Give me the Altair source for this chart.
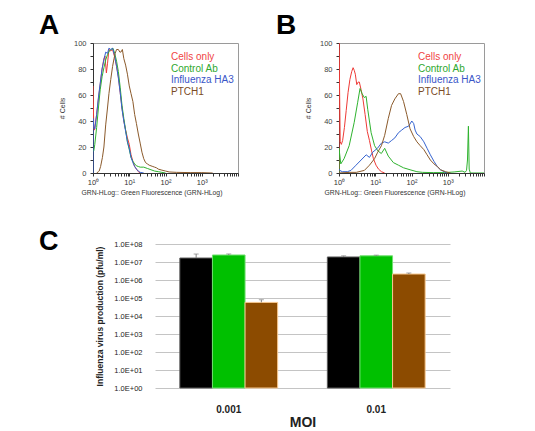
import altair as alt
import pandas as pd

FONT = "Liberation Sans"

# ---------------- histogram data (fluorescence value, % of max cells) -------------
series_names = ["Cells only", "Control Ab", "Influenza HA3", "PTCH1"]
line_colors = ["#ee3a36", "#2fb32f", "#3563d0", "#8b5a2b"]
legend_colors = ["#f04444", "#2ea82e", "#3a56c8", "#7a4a25"]

# Panel A
a_cells_x = [1.0, 1.05, 1.1, 1.26, 1.41, 1.58, 1.78, 2.0, 2.14, 2.34, 2.51, 2.75, 3.09, 3.47, 3.98, 4.47,
             5.01, 5.62, 6.31, 7.08, 7.94, 8.91, 10.0, 11.2, 12.6, 14.1, 15.8, 17.8, 20.0]
a_cells_y = [67, 35, 33, 45, 57, 68, 80, 88, 90, 77, 84, 95, 94, 95, 89, 82,
             74, 62, 50, 40, 33, 27, 22, 14, 9, 5, 3, 1, 0]
a_ctrl_x = [1.0, 1.05, 1.12, 1.26, 1.41, 1.58, 1.78, 2.0, 2.24, 2.51, 2.82, 3.16, 3.55, 3.98, 4.47, 5.01,
            5.62, 6.31, 7.08, 7.94, 8.91, 10.0, 11.2, 12.6, 14.1, 15.8, 17.8, 20.0, 25.1, 31.6, 39.8, 50.1,
            63.1, 79.4, 100.0]
a_ctrl_y = [17, 17, 22, 35, 50, 64, 74, 81, 87, 91, 94, 95, 96, 92, 86, 78,
            66, 52, 42, 33, 24, 18, 12, 9, 7, 5.5, 5, 4.5, 4.5, 3.5, 2.5, 1.5,
            1, 0.5, 0]
a_ha3_x = [1.0, 1.0, 1.05, 1.12, 1.26, 1.41, 1.58, 1.78, 2.0, 2.24, 2.51, 2.75, 3.09, 3.47, 3.98, 4.47,
           5.01, 5.62, 6.31, 7.08, 7.94, 8.91, 10.0, 11.2, 12.6, 14.1, 15.8, 17.8, 20.0, 25.1]
a_ha3_y = [0, 42, 36, 34, 45, 58, 69, 80, 87, 93, 92, 96, 95, 96, 90, 82,
           73, 62, 49, 40, 32, 24, 19, 12, 8, 5, 3, 1.5, 0.5, 0]
a_ptch_x = [1.26, 1.41, 1.48, 1.62, 1.82, 2.0, 2.24, 2.51, 2.75, 3.09, 3.47, 3.8, 4.07, 4.47, 5.01, 5.5,
            5.89, 6.46, 7.08, 7.94, 8.91, 10.0, 11.2, 12.6, 14.1, 15.8, 17.8, 20.0, 22.4, 25.1, 28.2, 31.6,
            35.5, 39.8, 44.7, 50.1, 56.2, 63.1, 79.4, 100.0, 126.0, 200.0, 500.0, 1000.0, 2000.0]
a_ptch_y = [0, 1, 1.5, 5, 12, 20, 37, 50, 61, 72, 82, 88, 92, 95, 95, 93,
            93, 95, 88, 83, 76, 67, 61, 55, 45, 38, 30, 23, 16, 11, 8, 7,
            6, 5.5, 5, 4.5, 4, 3, 2.2, 1.5, 0.8, 0.5, 0.3, 0.3, 0]

# Panel B
b_cells_x = [1.0, 1.0, 1.08, 1.16, 1.26, 1.41, 1.58, 1.78, 2.0, 2.24, 2.45, 2.63, 2.82, 3.09, 3.39, 3.63,
             4.07, 4.57, 5.25, 6.03, 6.92, 7.94, 8.91, 10.5, 12.3, 14.8, 18.2]
b_cells_y = [0, 100, 24, 22, 25, 35, 48, 62, 72, 78, 81, 79, 76, 68, 70, 70,
             64, 57, 45, 32, 25, 17, 11, 6, 3, 1, 0]
b_ctrl_x = [1.0, 1.0, 1.12, 1.38, 1.91, 2.63, 3.26, 3.8, 4.34, 5.0, 5.6, 6.2, 7.7, 9.6, 11.8, 14.7,
            18.2, 22.9, 31.6, 43.7, 60.3, 91.2, 141.0, 200.0, 400.0, 800.0, 1500.0, 2500.0, 3000.0, 3300.0,
            3500.0, 3715.0, 3900.0, 4200.0, 10000.0]
b_ctrl_y = [0, 19, 7, 11, 21, 39, 54, 65, 61, 58, 59, 49, 31, 21, 17, 15,
            19, 13, 8, 6, 4, 2.5, 1, 0.5, 0.3, 0.3, 0.8, 1.5, 0.5, 2,
            10, 36, 3, 0, 0]
b_ha3_x = [1.0, 1.05, 1.23, 1.7, 2.14, 2.95, 4.07, 5.62, 6.92, 8.51, 11.5, 14.8, 18.2, 22.9, 28.2, 34.7,
           43.7, 53.7, 66.1, 83.2, 102.0, 115.0, 126.0, 141.0, 174.0, 219.0, 269.0, 331.0, 417.0, 513.0,
           631.0, 794.0, 977.0]
b_ha3_y = [3, 2, 1, 1, 2, 6, 10, 14, 12, 16, 19, 23, 24, 23, 25, 27,
           31, 33, 35, 36, 40, 38, 33, 30, 28, 24, 19, 14, 9, 5,
           2.5, 1, 0]
b_ptch_x = [1.0, 2.0, 3.0, 5.01, 6.92, 9.55, 11.7, 14.8, 18.2, 22.9, 28.2, 34.7, 43.7, 50.1, 60.3, 74.1,
            91.2, 115.0, 141.0, 174.0, 219.0, 269.0, 331.0, 417.0, 513.0, 631.0, 871.0, 1202.0]
b_ptch_y = [0, 0.5, 0.5, 2, 6, 11, 16, 21, 29, 42, 52, 57, 61, 61, 55, 45,
            34, 28, 24, 21, 18, 14, 10, 7, 5, 2.5, 1, 0]

# ---------------- bar chart data ----------------
moi = ["0.001", "0.01"]
c_series = ["Cells only", "Control Ab", "PTCH1"]
c_colors = ["#000000", "#00c000", "#8c4b00"]
c_edges = ["#5a5a5a", "#6fe06f", "#f7c88e"]
c_val_0001 = [1.66e7, 2.45e7, 5.7e4]
c_val_001 = [1.9e7, 2.2e7, 2.15e6]
c_hi_0001 = [2.77e7, 2.8e7, 8.0e4]
c_hi_001 = [2.2e7, 2.4e7, 2.45e6]


def curves_df(curves):
    rows = []
    for name, xs, ys in curves:
        for i, (x, y) in enumerate(zip(xs, ys)):
            rows.append({"series": name, "fl": x, "cnt": y, "i": i})
    return pd.DataFrame(rows)


def letter_layer(letter, dx, dy, size):
    return alt.Chart(pd.DataFrame({"t": [letter]})).mark_text(
        align="left", baseline="alphabetic", fontSize=size, fontWeight="bold", font=FONT, color="#000"
    ).encode(text="t:N", x=alt.value(dx), y=alt.value(dy))


x_tick_vals = [m * 10 ** e for e in range(4) for m in range(1, 10)] + [10000]
x_label_expr = ("datum.value == 1 ? '10\u2070' : datum.value == 10 ? '10\u00b9' : "
                "datum.value == 100 ? '10\u00b2' : datum.value == 1000 ? '10\u00b3' : ''")


def hist_panel(df, letter, letter_dx, legend_dx, title_x):
    xaxis = alt.Axis(values=x_tick_vals, labelExpr=x_label_expr, labelOverlap=False, labelFlush=False,
                     grid=False, tickSize=3, tickColor="#333", domainColor="#333",
                     labelFontSize=7.5, labelColor="#333", labelPadding=2,
                     title="GRN-HLog:: Green Fluorescence (GRN-HLog)", titleFontSize=6.8,
                     titleFontWeight="normal", titleColor="#333", titleAlign="left",
                     titleAnchor="start", titleX=title_x, titlePadding=4)
    yaxis = alt.Axis(values=list(range(0, 101, 10)),
                     labelExpr="datum.value % 20 == 0 ? datum.label : ''",
                     grid=False, tickSize=3, tickColor="#333", domainColor="#333",
                     labelFontSize=7.5, labelColor="#444", labelPadding=4,
                     title="# Cells", titleFontSize=7, titleFontWeight="normal",
                     titleColor="#333", titlePadding=8)
    lines = alt.Chart(df).mark_line(strokeWidth=1, clip=True).encode(
        x=alt.X("fl:Q", scale=alt.Scale(type="log", domain=[1, 10000], nice=False), axis=xaxis),
        y=alt.Y("cnt:Q", scale=alt.Scale(domain=[0, 100], nice=False), axis=yaxis),
        color=alt.Color("series:N", scale=alt.Scale(domain=series_names, range=line_colors), legend=None),
        detail="series:N",
        order="i:Q",
    )
    layers = [lines]
    for k, (name, col) in enumerate(zip(series_names, legend_colors)):
        layers.append(
            alt.Chart(pd.DataFrame({"t": [name]})).mark_text(
                align="left", baseline="middle", fontSize=10, font=FONT, color=col
            ).encode(text="t:N", x=alt.value(legend_dx), y=alt.value(14 + 11.6 * k))
        )
    layers.append(letter_layer(letter, letter_dx, -8.7, 28))
    return alt.layer(*layers).properties(
        width=145, height=130, view=alt.ViewBackground(stroke="#9a9a9a", strokeWidth=1)
    )


dfA = curves_df([
    ("Cells only", a_cells_x, a_cells_y),
    ("Control Ab", a_ctrl_x, a_ctrl_y),
    ("Influenza HA3", a_ha3_x, a_ha3_y),
    ("PTCH1", a_ptch_x, a_ptch_y),
])
dfB = curves_df([
    ("Cells only", b_cells_x, b_cells_y),
    ("Control Ab", b_ctrl_x, b_ctrl_y),
    ("Influenza HA3", b_ha3_x, b_ha3_y),
    ("PTCH1", b_ptch_x, b_ptch_y),
])

A = hist_panel(dfA, "A", -54, 78, -12)
B = hist_panel(dfB, "B", -63, 79, -15)

# ---------------- panel C ----------------
rows = []
for m, vals, his in [(moi[0], c_val_0001, c_hi_0001), (moi[1], c_val_001, c_hi_001)]:
    for s, v, h in zip(c_series, vals, his):
        rows.append({"moi": m, "grp": s, "val": v, "hi": h})
dfC = pd.DataFrame(rows)

cx = alt.X("moi:N", sort=moi, scale=alt.Scale(paddingInner=0.337, paddingOuter=0.1685),
           axis=alt.Axis(title="MOI", titleFontSize=14, titleFontWeight="bold", titleColor="#222",
                         labelFontSize=10, labelFontWeight="bold", labelColor="#222", labelAngle=0,
                         ticks=False, domain=False, labelPadding=16, titlePadding=1))
cxo = alt.XOffset("grp:N", sort=c_series, scale=alt.Scale(paddingInner=0, paddingOuter=0))
cyaxis = alt.Axis(values=[10 ** e for e in range(9)],
                  labelExpr="'1.0E+0' + round(log(datum.value) / LN10)",
                  grid=True, gridColor="#c4c4c4", gridWidth=1, ticks=False, domain=False,
                  labelFontSize=7.5, labelColor="#222", labelPadding=13,
                  title="Influenza virus production (pfu/ml)", titleFontSize=8.5,
                  titleFontWeight="bold", titleColor="#222", titlePadding=9)
cyscale = alt.Scale(type="log", domain=[1, 1e8], nice=False)

bars = alt.Chart(dfC).mark_bar(strokeWidth=1).encode(
    x=cx, xOffset=cxo,
    y=alt.Y("val:Q", scale=cyscale, axis=cyaxis),
    y2=alt.datum(1),
    color=alt.Color("grp:N", scale=alt.Scale(domain=c_series, range=c_colors), legend=None),
    stroke=alt.Stroke("grp:N", scale=alt.Scale(domain=c_series, range=c_edges), legend=None),
)
errs = alt.Chart(dfC).mark_rule(color="#808080", strokeWidth=1).encode(
    x=cx, xOffset=cxo,
    y=alt.Y("val:Q", scale=cyscale, axis=cyaxis),
    y2="hi:Q",
)
caps = alt.Chart(dfC).mark_tick(color="#808080", size=5, thickness=1).encode(
    x=cx, xOffset=cxo,
    y=alt.Y("hi:Q", scale=cyscale, axis=cyaxis),
)

C = alt.layer(bars, errs, caps).properties(
    width=295, height=144, view=alt.ViewBackground(stroke="transparent")
)
# left strip holding the panel letter, so that panel C starts further right than panel A
C_strip = letter_layer("C", -54, 5.6, 27).properties(
    width=62, height=144, view=alt.ViewBackground(stroke="transparent")
)

row1 = alt.hconcat(A, B, spacing=101, bounds="flush")
row2 = alt.hconcat(C_strip, C, spacing=0, bounds="flush").resolve_scale(
    color="independent", stroke="independent")
chart = alt.vconcat(row1, row2, spacing=30, bounds="full").resolve_scale(
    color="independent", stroke="independent"
).properties(
    padding={"left": 30, "top": 3, "right": 5, "bottom": 0},
    background="white",
).configure(font=FONT)

chart.save("out.html", embed_options={"renderer": "svg", "actions": False})
